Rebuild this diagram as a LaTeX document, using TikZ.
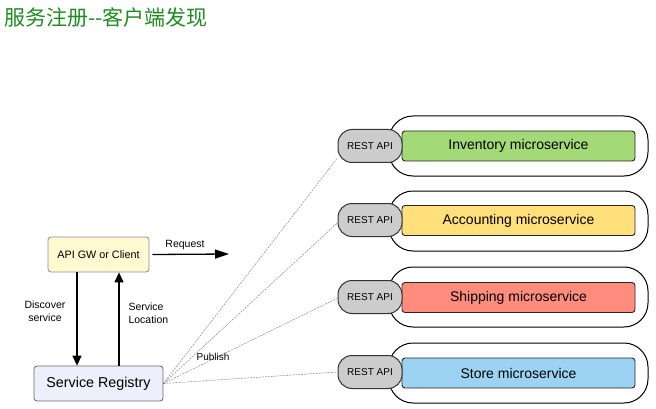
\documentclass[tikz,border=0pt]{standalone}
\usepackage{fontspec}
\setmainfont{Liberation Sans}
\newfontfamily\cjk{Noto Sans CJK SC}
\usetikzlibrary{arrows.meta}
\definecolor{titlegreen}{RGB}{30,140,30}
\definecolor{gwfill}{RGB}{255,249,210}
\definecolor{regfill}{RGB}{238,238,252}
\definecolor{restfill}{RGB}{204,204,204}
\definecolor{invfill}{RGB}{163,217,119}
\definecolor{accfill}{RGB}{255,224,122}
\definecolor{shipfill}{RGB}{255,140,125}
\definecolor{storefill}{RGB}{157,211,242}
\tikzset{
  x=1pt, y=-1pt,
  outerbox/.style={draw=black, line width=1pt, rounded corners=24pt, minimum width=259pt, minimum height=60pt, inner sep=0pt},
  barbox/.style={draw=black!85, line width=0.9pt, rounded corners=3pt, minimum width=233pt, minimum height=30pt, inner sep=0pt, font=\fontsize{14}{16}\selectfont},
  restbox/.style={draw=black!80, fill=restfill, line width=1pt, rounded corners=14pt, minimum width=64pt, minimum height=33pt, inner sep=0pt, font=\fontsize{10}{12}\selectfont},
  publine/.style={draw=black!55, line width=0.4pt, dash pattern=on 2pt off 1pt},
  bigarrow/.style={line width=1.3pt, -{Triangle[length=10pt,width=9pt]}},
  small/.style={font=\fontsize{10.5}{12.5}\selectfont}
}
\begin{document}
\begin{tikzpicture}
\useasboundingbox (0,0) rectangle (656,409);
\node[anchor=west, text=titlegreen, font=\cjk\fontsize{21}{24}\selectfont, inner sep=0pt] (title) at (4,17) {服务注册--客户端发现};

% microservice groups
\node[outerbox] (o1) at (518.5,146) {};
\node[outerbox] (o2) at (518.5,221) {};
\node[outerbox] (o3) at (518.5,297) {};
\node[outerbox] (o4) at (518.5,373) {};
\node[barbox, fill=invfill] (b1) at (518.5,146) {Inventory microservice};
\node[barbox, fill=accfill] (b2) at (518.5,220.5) {Accounting microservice};
\node[barbox, fill=shipfill] (b3) at (518.5,297.5) {Shipping microservice};
\node[barbox, fill=storefill] (b4) at (518.5,373) {Store microservice};
\node[restbox] (r1) at (370,146) {REST API};
\node[restbox] (r2) at (370,220) {REST API};
\node[restbox] (r3) at (370,297) {REST API};
\node[restbox] (r4) at (370,372) {REST API};

% left side
\node[draw=black!45, fill=gwfill, line width=0.8pt, rounded corners=3pt, minimum width=101pt, minimum height=35pt, inner sep=0pt, font=\fontsize{10.8}{13}\selectfont] (gw) at (98.5,254.5) {API GW or Client};
\node[draw=black!60, fill=regfill, line width=0.8pt, rounded corners=3pt, minimum width=129pt, minimum height=35pt, inner sep=0pt, font=\fontsize{14.3}{16}\selectfont] (reg) at (98.5,383.5) {Service Registry};

\coordinate (reqend) at (229,254);
\draw[line width=1.3pt, -{Triangle[length=14pt,width=9pt]}] (gw.east) ++(3,0) coordinate (reqstart) -- (reqend);
\node[small] (req) at (185,244.5) {Request};

\draw[bigarrow] (gw.south -| 77,0) -- (reg.north -| 77,0);
\draw[bigarrow] (reg.north -| 119,0) -- (gw.south -| 119,0);
\node[small, align=center] (disc) at (45,311) {Discover\\service};
\node[small, align=left, anchor=west] (loc) at (125,313) {Service\\Location};

% publish lines
\draw[publine] (reg.east) -- (r1.200);
\draw[publine] (reg.east) -- (r2.185);
\draw[publine] (reg.east) -- (r3.182);
\draw[publine] (reg.east) -- (r4.west);
\node[font=\fontsize{10}{12}\selectfont] (pub) at (213,357) {Publish};
\end{tikzpicture}
\end{document}
